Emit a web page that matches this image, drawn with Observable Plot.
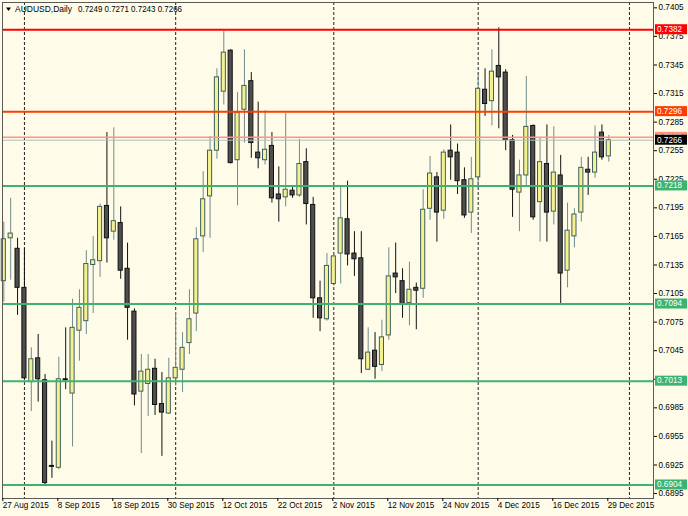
<!DOCTYPE html>
<html><head><meta charset="utf-8">
<script src="https://cdn.jsdelivr.net/npm/d3@7"></script>
<script src="https://cdn.jsdelivr.net/npm/@observablehq/plot@0.6"></script>
<style>
html,body{margin:0;padding:0;background:#fefce9;}
#chart{width:688px;height:516px;overflow:hidden;}
</style></head><body><div id="chart"></div>
<script>
// ---- data (AUDUSD daily, 27 Aug 2015 .. 29 Dec 2015) ----
const openP = [0.7118,0.7163,0.7152,0.7111,0.7012,0.7037,0.7014,0.6924,0.6922,0.7015,
0.7000,0.7066,0.7076,0.7135,0.7139,0.7197,0.7170,0.7179,0.7131,0.7086,
0.7002,0.7010,0.7026,0.6989,0.6979,0.7016,0.7025,0.7053,0.7084,0.7165,
0.7207,0.7255,0.7317,0.7360,0.7245,0.7298,0.7328,0.7253,0.7245,0.7260,
0.7209,0.7206,0.7213,0.7208,0.7243,0.7198,0.7100,0.7078,0.7115,0.7147,
0.7183,0.7147,0.7142,0.7025,0.7045,0.7030,0.7061,0.7126,0.7118,0.7095,
0.7111,0.7110,0.7194,0.7227,0.7192,0.7255,0.7253,0.7224,0.7190,0.7227,
0.7319,0.7307,0.7344,0.7337,0.7266,0.7211,0.7229,0.7281,0.7201,0.7241,
0.7191,0.7229,0.7129,0.7165,0.7190,0.7235,0.7232,0.7274,0.7249];
const highP = [0.7180,0.7205,0.7163,0.7152,0.7048,0.7062,0.7020,0.6950,0.7038,0.7069,
0.7099,0.7109,0.7150,0.7165,0.7199,0.7274,0.7279,0.7196,0.7158,0.7089,
0.7041,0.7041,0.7036,0.7022,0.7037,0.7085,0.7064,0.7109,0.7174,0.7233,
0.7270,0.7341,0.7380,0.7361,0.7316,0.7361,0.7337,0.7306,0.7297,0.7274,
0.7238,0.7294,0.7217,0.7267,0.7257,0.7206,0.7118,0.7147,0.7147,0.7218,
0.7223,0.7170,0.7170,0.7069,0.7064,0.7077,0.7153,0.7158,0.7131,0.7138,
0.7116,0.7214,0.7249,0.7232,0.7256,0.7282,0.7262,0.7237,0.7248,0.7335,
0.7341,0.7361,0.7384,0.7340,0.7271,0.7245,0.7333,0.7282,0.7269,0.7282,
0.7280,0.7250,0.7200,0.7194,0.7248,0.7248,0.7281,0.7282,0.7271];
const lowP = [0.7096,0.7119,0.7082,0.7015,0.6981,0.6991,0.6904,0.6911,0.6920,0.7004,
0.6944,0.7034,0.7062,0.7084,0.7122,0.7137,0.7161,0.7120,0.7056,0.6987,
0.6937,0.6976,0.6977,0.6934,0.6978,0.7008,0.7001,0.7041,0.7065,0.7148,
0.7163,0.7246,0.7303,0.7241,0.7197,0.7263,0.7247,0.7236,0.7240,0.7200,
0.7180,0.7196,0.7205,0.7206,0.7177,0.7079,0.7065,0.7076,0.7113,0.7115,
0.7134,0.7123,0.7021,0.7024,0.7015,0.7023,0.7056,0.7105,0.7079,0.7071,
0.7067,0.7100,0.7182,0.7159,0.7183,0.7224,0.7209,0.7184,0.7168,0.7217,
0.7291,0.7281,0.7278,0.7255,0.7185,0.7170,0.7218,0.7182,0.7159,0.7159,
0.7177,0.7094,0.7111,0.7153,0.7180,0.7208,0.7226,0.7245,0.7243];
const closeP = [0.7162,0.7168,0.7111,0.7016,0.7036,0.7015,0.6906,0.6923,0.7015,0.7014,
0.7069,0.7090,0.7136,0.7140,0.7196,0.7163,0.7181,0.7129,0.7090,0.6999,
0.7023,0.7025,0.6988,0.6980,0.7016,0.7027,0.7048,0.7078,0.7162,0.7204,
0.7255,0.7332,0.7358,0.7242,0.7295,0.7323,0.7263,0.7247,0.7256,0.7205,
0.7204,0.7214,0.7208,0.7241,0.7199,0.7100,0.7079,0.7134,0.7144,0.7184,
0.7146,0.7141,0.7036,0.7043,0.7028,0.7059,0.7123,0.7122,0.7094,0.7109,
0.7108,0.7193,0.7231,0.7190,0.7253,0.7248,0.7223,0.7187,0.7225,0.7320,
0.7304,0.7338,0.7332,0.7266,0.7214,0.7229,0.7280,0.7185,0.7243,0.7190,
0.7232,0.7126,0.7171,0.7188,0.7237,0.7232,0.7253,0.7248,0.7266];

const dateLabels = ["27 Aug 2015","8 Sep 2015","18 Sep 2015","30 Sep 2015","12 Oct 2015","22 Oct 2015",
  "2 Nov 2015","12 Nov 2015","24 Nov 2015","4 Dec 2015","16 Dec 2015","29 Dec 2015"];
const dateLabelBars = [0,8,16,24,32,40,48,56,64,72,80,88];
const monthStartBars = [3,25,48,69,91];
const priceTicks = [0.7405,0.7375,0.7345,0.7315,0.7285,0.7255,0.7225,0.7195,0.7165,0.7135,
  0.7105,0.7075,0.7045,0.7015,0.6985,0.6955,0.6925,0.6895];
const hiddenTickLabels = [0.7015]; // fully covered by the 0.7013 price tag in the reference
const levelValues = [0.7382,0.7296,0.7269,0.7218,0.7094,0.7013,0.6904];
const levelColors = ["#ff0000","#ff3c00","#ff9478","#3cb371","#3cb371","#3cb371","#3cb371"];
const levelWidths = [2,2,1.5,2,2,2,2];
const bidPrice = 0.7266;
const symbol = "AUDUSD,Daily";

// ---- build ----
const candles = openP.map((o,i)=>({i, open:o, high:highP[i], low:lowP[i], close:closeP[i], up: closeP[i] > o}));
const levels = levelValues.map((v,k)=>({v, c:levelColors[k], w:levelWidths[k]}));
const BG = "#fefce9";
const FONT = "'Liberation Sans', Arial, sans-serif";
const FS = 8.2;

const plot = Plot.plot({
  width: 688, height: 516,
  marginTop: 2, marginLeft: 2, marginRight: 35, marginBottom: 18,
  style: {background: BG, fontFamily: FONT, fontSize: FS + "px", color: "#000", overflow: "visible"},
  x: {type: "linear", domain: [-0.19, 94.5], label: null},
  y: {domain: [0.68898, 0.74106], label: null},
  marks: [
    Plot.ruleX(monthStartBars, {stroke: "#222", strokeWidth: 1, strokeDasharray: "3,2"}),
    Plot.ruleX(candles, {x: "i", y1: "low", y2: "high", stroke: d => d.up ? "#6f8a8a" : "#111", strokeWidth: 1}),
    Plot.rect(candles, {x1: d => d.i - 0.3, x2: d => d.i + 0.3,
      y1: "open", y2: d => Math.abs(d.close - d.open) < 0.00005 ? d.open + 0.00008 : d.close,
      fill: d => d.up ? "#f4f28e" : "#4e4e4e", stroke: d => d.up ? "#3f5e5e" : "#111", strokeWidth: 1}),
    Plot.ruleY([bidPrice], {stroke: "#b8b8b8", strokeWidth: 1}),
    Plot.ruleY(levels, {y: "v", stroke: "c", strokeWidth: "w"}),
    Plot.frame({stroke: "#5a5a5a"}),
    Plot.axisY(priceTicks, {anchor: "right", tickSize: 3, tickPadding: 2,
      tickFormat: d => hiddenTickLabels.includes(d) ? "" : d.toFixed(4),
      textAnchor: "start", fill: "#000", fontSize: FS, label: null}),
    Plot.axisX(dateLabelBars, {anchor: "bottom", tickSize: 3, tickPadding: 1, label: null,
      tickFormat: d => dateLabels[dateLabelBars.indexOf(d)], textAnchor: "start", dx: -1, fill: "#000", fontSize: FS})
  ]
});

document.getElementById("chart").appendChild(plot);

// price label boxes on the right, positioned through the plot's y scale
const ys = plot.scale("y");
const svg = d3.select(plot);
const boxes = levels.slice(0,2).concat([levels[2], {v: bidPrice, c: "#000"}], levels.slice(3));
const g = svg.append("g").attr("font-family", FONT).attr("font-size", FS).attr("text-anchor", "start");
boxes.forEach(b => {
  const y = ys.apply(b.v);
  g.append("rect").attr("x", 655).attr("y", y - 5).attr("width", 32).attr("height", 10).attr("fill", b.c);
  g.append("text").attr("x", 657).attr("y", y).attr("dy", "0.34em").attr("fill", "#fff").text(b.v.toFixed(4));
});

// title
const last = candles[candles.length - 1];
const t = svg.append("g").attr("font-family", FONT).attr("font-size", 8.5).attr("fill", "#000").attr("text-anchor", "start");
t.append("path").attr("d", "M6,7.5 L11,7.5 L8.5,11 Z").attr("fill", "#000");
t.append("text").attr("x", 15).attr("y", 9.5).attr("dy", "0.34em")
  .attr("textLength", 57).attr("lengthAdjust", "spacingAndGlyphs").text(symbol);
t.append("text").attr("x", 78).attr("y", 9.5).attr("dy", "0.34em")
  .attr("textLength", 104).attr("lengthAdjust", "spacingAndGlyphs")
  .text([last.open, last.high, last.low, last.close].map(v => v.toFixed(4)).join(" "));
</script></body></html>
